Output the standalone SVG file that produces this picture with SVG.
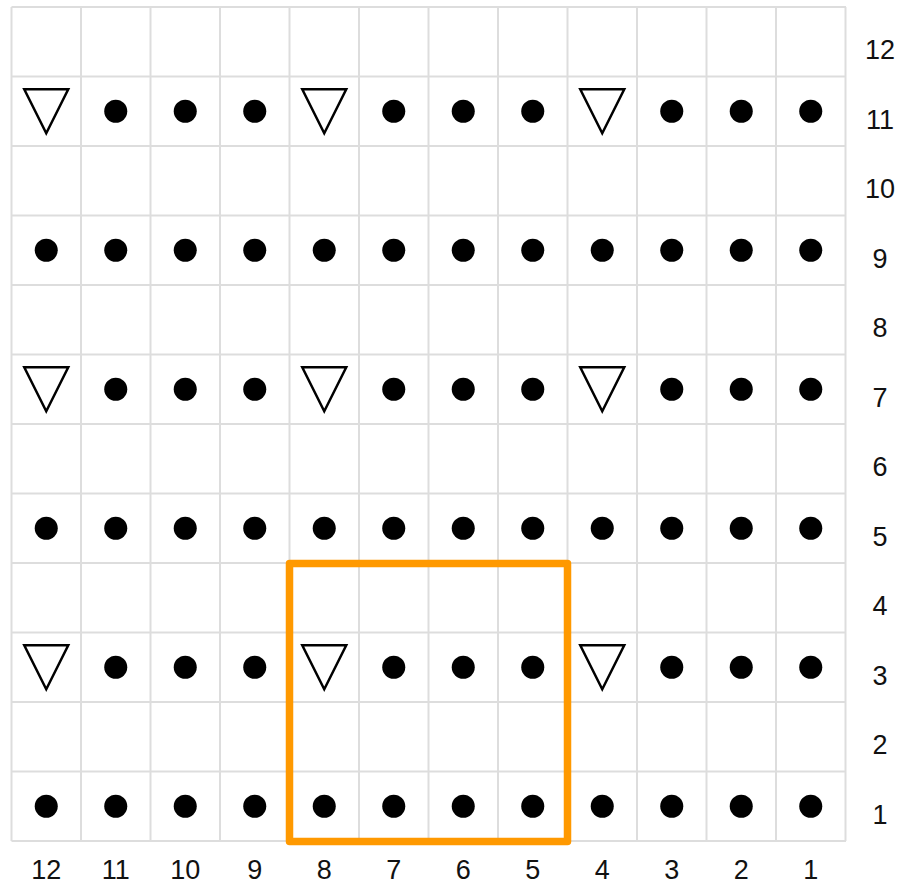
<svg xmlns="http://www.w3.org/2000/svg" width="901" height="886" viewBox="0 0 901 886">
<style>
.g{stroke:#dddddd;stroke-width:2;fill:none}
.d{fill:#000}
.t{fill:none;stroke:#000;stroke-width:2.5;stroke-linejoin:miter}
.l{font-family:"Liberation Sans",Arial,sans-serif;font-size:27px;fill:#111;text-anchor:middle}
</style>
<defs>
<circle id="dot" r="11.5" class="d"/>
<path id="tri" d="M-22,-22 L22,-22 L0,22 Z" class="t"/>
</defs>
<rect width="901" height="886" fill="#fff"/>
<g id="grid">
<path class="g" d="M11.5,7H846M11.5,76.5H846M11.5,146H846M11.5,215.5H846M11.5,285H846M11.5,354.5H846M11.5,424H846M11.5,493.5H846M11.5,563H846M11.5,632.5H846M11.5,702H846M11.5,771.5H846M11.5,841H846"/>
<path class="g" d="M11.5,7V841M81,7V841M150.5,7V841M220,7V841M289.5,7V841M359,7V841M428.5,7V841M498,7V841M567.5,7V841M637,7V841M706.5,7V841M776,7V841M845.5,7V841"/>
</g>
<g id="row11">
<use href="#tri" x="46.25" y="111.25"/><use href="#dot" x="115.75" y="111.25"/><use href="#dot" x="185.25" y="111.25"/><use href="#dot" x="254.75" y="111.25"/><use href="#tri" x="324.25" y="111.25"/><use href="#dot" x="393.75" y="111.25"/><use href="#dot" x="463.25" y="111.25"/><use href="#dot" x="532.75" y="111.25"/><use href="#tri" x="602.25" y="111.25"/><use href="#dot" x="671.75" y="111.25"/><use href="#dot" x="741.25" y="111.25"/><use href="#dot" x="810.75" y="111.25"/>
</g>
<g id="row9">
<use href="#dot" x="46.25" y="250.25"/><use href="#dot" x="115.75" y="250.25"/><use href="#dot" x="185.25" y="250.25"/><use href="#dot" x="254.75" y="250.25"/><use href="#dot" x="324.25" y="250.25"/><use href="#dot" x="393.75" y="250.25"/><use href="#dot" x="463.25" y="250.25"/><use href="#dot" x="532.75" y="250.25"/><use href="#dot" x="602.25" y="250.25"/><use href="#dot" x="671.75" y="250.25"/><use href="#dot" x="741.25" y="250.25"/><use href="#dot" x="810.75" y="250.25"/>
</g>
<g id="row7">
<use href="#tri" x="46.25" y="389.25"/><use href="#dot" x="115.75" y="389.25"/><use href="#dot" x="185.25" y="389.25"/><use href="#dot" x="254.75" y="389.25"/><use href="#tri" x="324.25" y="389.25"/><use href="#dot" x="393.75" y="389.25"/><use href="#dot" x="463.25" y="389.25"/><use href="#dot" x="532.75" y="389.25"/><use href="#tri" x="602.25" y="389.25"/><use href="#dot" x="671.75" y="389.25"/><use href="#dot" x="741.25" y="389.25"/><use href="#dot" x="810.75" y="389.25"/>
</g>
<g id="row5">
<use href="#dot" x="46.25" y="528.25"/><use href="#dot" x="115.75" y="528.25"/><use href="#dot" x="185.25" y="528.25"/><use href="#dot" x="254.75" y="528.25"/><use href="#dot" x="324.25" y="528.25"/><use href="#dot" x="393.75" y="528.25"/><use href="#dot" x="463.25" y="528.25"/><use href="#dot" x="532.75" y="528.25"/><use href="#dot" x="602.25" y="528.25"/><use href="#dot" x="671.75" y="528.25"/><use href="#dot" x="741.25" y="528.25"/><use href="#dot" x="810.75" y="528.25"/>
</g>
<g id="row3">
<use href="#tri" x="46.25" y="667.25"/><use href="#dot" x="115.75" y="667.25"/><use href="#dot" x="185.25" y="667.25"/><use href="#dot" x="254.75" y="667.25"/><use href="#tri" x="324.25" y="667.25"/><use href="#dot" x="393.75" y="667.25"/><use href="#dot" x="463.25" y="667.25"/><use href="#dot" x="532.75" y="667.25"/><use href="#tri" x="602.25" y="667.25"/><use href="#dot" x="671.75" y="667.25"/><use href="#dot" x="741.25" y="667.25"/><use href="#dot" x="810.75" y="667.25"/>
</g>
<g id="row1">
<use href="#dot" x="46.25" y="806.25"/><use href="#dot" x="115.75" y="806.25"/><use href="#dot" x="185.25" y="806.25"/><use href="#dot" x="254.75" y="806.25"/><use href="#dot" x="324.25" y="806.25"/><use href="#dot" x="393.75" y="806.25"/><use href="#dot" x="463.25" y="806.25"/><use href="#dot" x="532.75" y="806.25"/><use href="#dot" x="602.25" y="806.25"/><use href="#dot" x="671.75" y="806.25"/><use href="#dot" x="741.25" y="806.25"/><use href="#dot" x="810.75" y="806.25"/>
</g>
<g id="repeat">
<rect x="289.5" y="563.5" width="278" height="278" fill="none" stroke="#ff9900" stroke-width="7.5" stroke-linejoin="round"/>
</g>
<g id="row-labels" class="l">
<text x="880" y="59">12</text>
<text x="880" y="128.5">11</text>
<text x="880" y="198">10</text>
<text x="880" y="267.5">9</text>
<text x="880" y="337">8</text>
<text x="880" y="406.5">7</text>
<text x="880" y="476">6</text>
<text x="880" y="545.5">5</text>
<text x="880" y="615">4</text>
<text x="880" y="684.5">3</text>
<text x="880" y="754">2</text>
<text x="880" y="823.5">1</text>
</g>
<g id="col-labels" class="l">
<text x="46.25" y="879">12</text>
<text x="115.75" y="879">11</text>
<text x="185.25" y="879">10</text>
<text x="254.75" y="879">9</text>
<text x="324.25" y="879">8</text>
<text x="393.75" y="879">7</text>
<text x="463.25" y="879">6</text>
<text x="532.75" y="879">5</text>
<text x="602.25" y="879">4</text>
<text x="671.75" y="879">3</text>
<text x="741.25" y="879">2</text>
<text x="810.75" y="879">1</text>
</g>
</svg>
